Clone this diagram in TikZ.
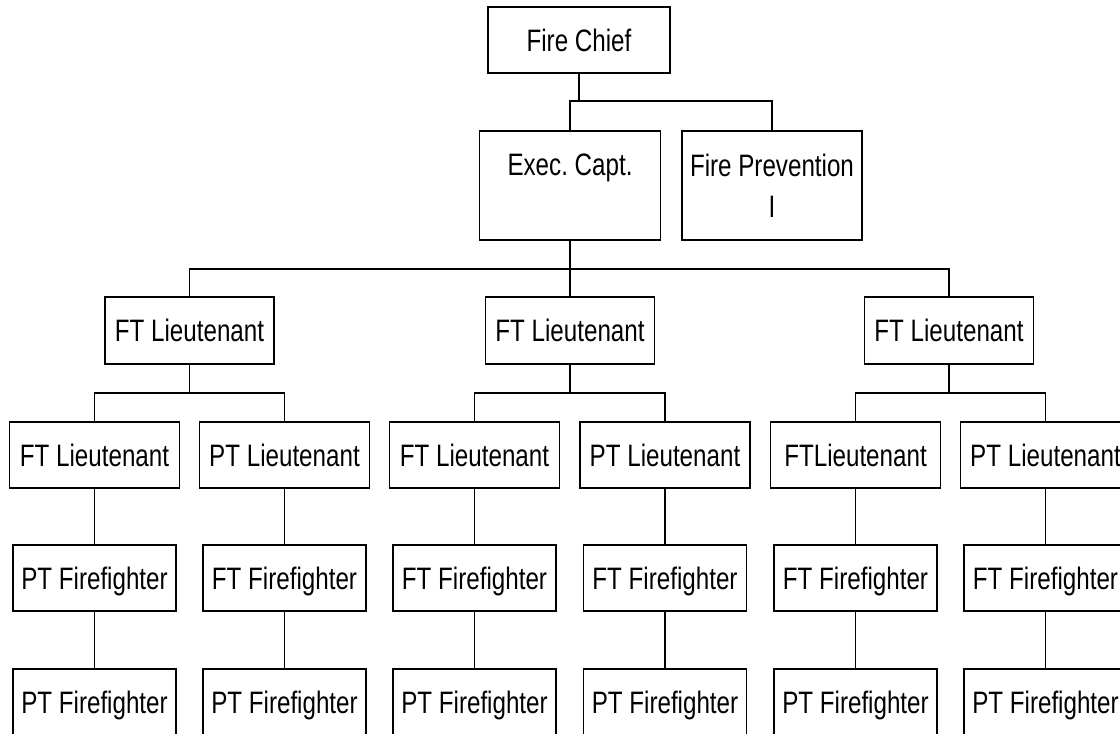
\documentclass[tikz,border=0pt]{standalone}
\usepackage{fontspec}
\setmainfont{Liberation Sans}[FakeStretch=0.78]
\frenchspacing
\begin{document}
\begin{tikzpicture}[x=1pt,y=-1pt,
  lw/.style={line width=1.6pt},
  box/.style={draw, lw, rectangle, inner sep=0pt, font=\fontsize{31}{41}\selectfont, text height=22pt, text depth=0pt, minimum height=66pt},
  tallbox/.style={draw, lw, rectangle, inner sep=0pt, font=\fontsize{31}{41}\selectfont, align=center, minimum height=109pt},
  wa/.style={box, minimum width=169pt, minimum height=67pt},
  wb/.style={box, minimum width=170pt},
  wc/.style={box, minimum width=163pt},
  conn/.style={lw}]
\useasboundingbox (0,0) rectangle (1120,734);
\node[box, minimum width=182pt] (chief) at (579,40) {Fire Chief};
\node[tallbox, minimum width=181pt] (exec) at (570,185.5) {Exec. Capt.\\\phantom{I}};
\node[tallbox, minimum width=180pt] (fp) at (772,185.5) {Fire Prevention\\I};
% level 3
\node[wa] (a) at (189.5,330.5) {FT Lieutenant};
\node[wa] (b) at (570,330.5) {FT Lieutenant};
\node[wa] (c) at (949,330.5) {FT Lieutenant};
% level 4
\node[wb] (a1) at (94.5,455) {FT Lieutenant};
\node[wb] (a2) at (284.5,455) {PT Lieutenant};
\node[wb] (b1) at (474.5,455) {FT Lieutenant};
\node[wb] (b2) at (665,455) {PT Lieutenant};
\node[wb] (c1) at (855.5,455) {FTLieutenant};
\node[wb] (c2) at (1045.5,455) {PT Lieutenant};
% level 5
\node[wc] (a1f) at (94.5,578) {PT Firefighter};
\node[wc] (a2f) at (284.5,578) {FT Firefighter};
\node[wc] (b1f) at (474.5,578) {FT Firefighter};
\node[wc] (b2f) at (665,578) {FT Firefighter};
\node[wc] (c1f) at (855.5,578) {FT Firefighter};
\node[wc] (c2f) at (1045.5,578) {FT Firefighter};
% level 6
\node[wc] (a1p) at (94.5,702) {PT Firefighter};
\node[wc] (a2p) at (284.5,702) {PT Firefighter};
\node[wc] (b1p) at (474.5,702) {PT Firefighter};
\node[wc] (b2p) at (665,702) {PT Firefighter};
\node[wc] (c1p) at (855.5,702) {PT Firefighter};
\node[wc] (c2p) at (1045.5,702) {PT Firefighter};
% junctions
\coordinate (j0) at (579,101);
\coordinate (j1) at (570,269);
\coordinate (ja) at (189.5,393);
\coordinate (jb) at (570,393);
\coordinate (jc) at (949,393);
% connectors
\draw[conn] (chief.south) -- (j0);
\draw[conn] (exec.north) |- (j0);
\draw[conn] (fp.north) |- (j0);
\draw[conn] (exec.south) -- (j1);
\draw[conn] (a.north) |- (j1);
\draw[conn] (b.north) |- (j1);
\draw[conn] (c.north) |- (j1);
\draw[conn] (a.south) -- (ja);
\draw[conn] (a1.north) |- (ja);
\draw[conn] (a2.north) |- (ja);
\draw[conn] (b.south) -- (jb);
\draw[conn] (b1.north) |- (jb);
\draw[conn] (b2.north) |- (jb);
\draw[conn] (c.south) -- (jc);
\draw[conn] (c1.north) |- (jc);
\draw[conn] (c2.north) |- (jc);
\foreach \u/\v in {a1/a1f,a2/a2f,b1/b1f,b2/b2f,c1/c1f,c2/c2f,a1f/a1p,a2f/a2p,b1f/b1p,b2f/b2p,c1f/c1p,c2f/c2p}
  \draw[conn] (\u.south) -- (\v.north);
\end{tikzpicture}
\end{document}
